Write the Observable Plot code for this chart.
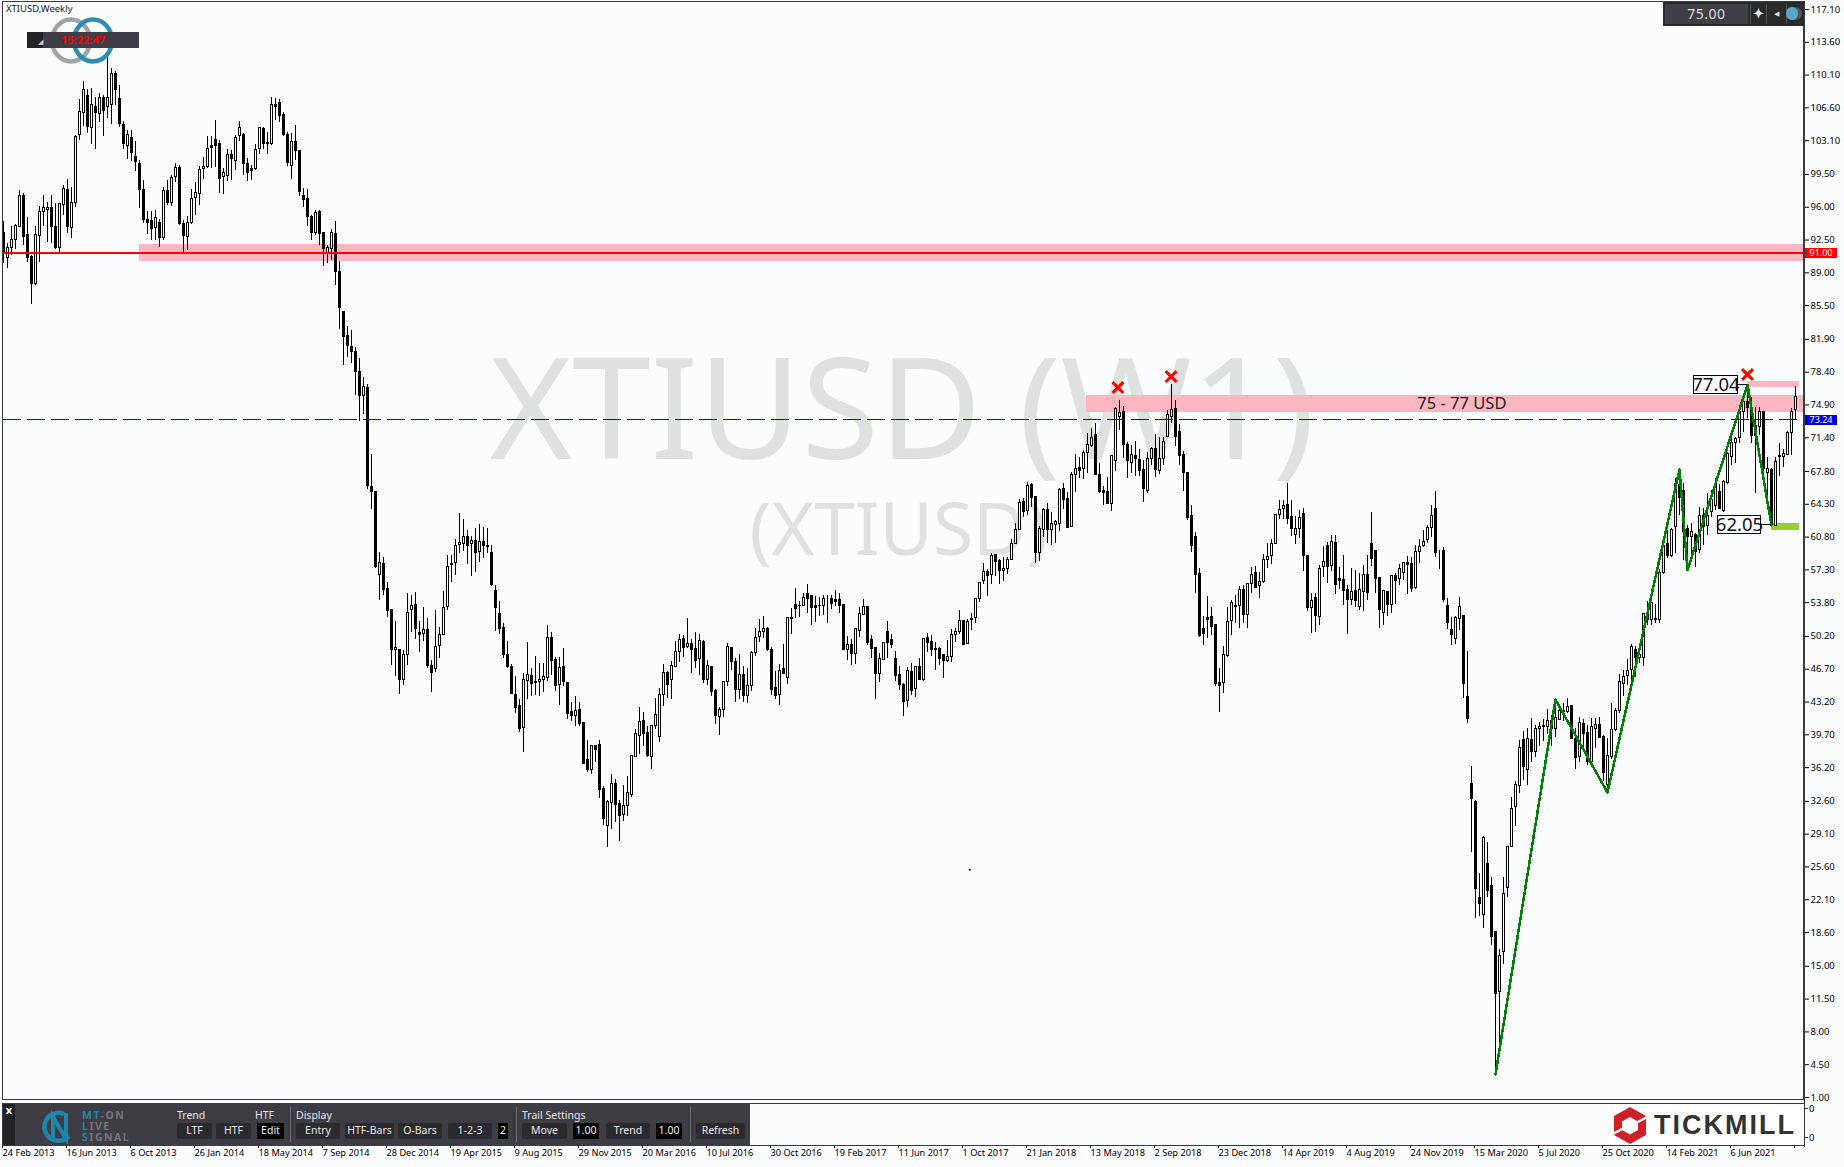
<!DOCTYPE html>
<html><head><meta charset="utf-8">
<script src="https://cdn.jsdelivr.net/npm/d3@7"></script>
<script src="https://cdn.jsdelivr.net/npm/@observablehq/plot@0.6"></script>
<style>
html,body{margin:0;padding:0;background:#fafcfe;overflow:hidden}
#wrap{position:relative;width:1844px;height:1167px;font-family:"Noto Sans",sans-serif}
#wrap svg{display:block}
.o{position:absolute;box-sizing:border-box;white-space:nowrap}
.b{background:#2b2a2e;color:#e6e6e6;border-radius:2px;text-align:center;font-size:10.5px;line-height:15px;height:16px;top:1123px}
.k{background:#000;color:#eee;text-align:center;font-size:10.5px;line-height:15px;height:16px;top:1123px}
.t{color:#e4e4e4;font-size:10.5px;top:1108px;line-height:14px}
.s{width:1px;background:#6a6a70;top:1107px;height:35px}
</style></head><body><div id="wrap"></div>
<script>
const opens=[93.3,90.6,91.7,92.5,93.9,97.2,93.0,90.7,87.8,92.9,
95.5,95.7,95.9,93.9,91.6,96.2,97.8,93.8,96.4,103.7,
106.1,107.9,104.5,106.7,106.0,107.7,106.7,106.9,110.2,107.6,
104.8,102.5,103.4,101.4,100.6,97.8,94.6,94.5,93.8,94.3,
92.7,97.7,96.5,99.2,100.2,94.2,92.8,94.3,97.0,97.4,
100.1,100.3,102.5,103.2,102.8,99.2,99.3,101.6,100.9,103.6,
103.7,100.6,100.1,100.1,102.2,104.4,102.9,102.7,106.9,107.1,
105.8,103.7,100.4,103.0,102.0,97.2,96.9,95.0,93.3,95.5,
93.2,91.0,91.5,93.1,89.1,84.8,82.3,81.1,80.6,78.4,
75.9,76.7,66.1,65.6,56.8,57.9,55.3,53.0,48.8,48.8,
45.5,48.2,53.0,53.6,50.6,50.5,50.9,47.0,46.7,49.2,
50.4,53.3,57.9,58.0,60.0,60.1,60.8,60.1,60.4,59.2,
60.3,59.8,59.1,55.0,52.6,51.1,48.2,46.9,43.9,42.8,
40.4,45.4,46.0,45.3,45.3,45.6,45.8,50.0,47.7,45.0,
46.9,45.2,42.1,41.7,42.4,41.0,37.0,36.0,38.5,38.6,
33.9,30.0,32.4,34.5,32.3,31.1,32.1,33.3,37.3,39.6,
41.2,39.9,37.3,40.6,39.5,44.0,46.3,45.6,46.9,48.5,
49.9,49.1,49.4,48.9,47.8,49.6,45.6,46.9,44.4,41.6,
42.4,45.3,49.0,47.5,44.5,46.1,43.8,44.9,48.4,50.1,
50.7,51.0,48.7,44.7,44.0,46.7,45.8,52.1,53.6,53.5,
53.4,54.7,54.5,53.4,53.5,53.4,54.2,54.2,54.1,54.1,
53.6,48.8,49.3,48.3,50.8,52.5,53.3,49.8,49.0,46.2,
47.7,50.7,49.8,47.8,46.1,45.0,43.3,46.4,44.6,46.9,
45.5,50.0,49.6,48.9,48.9,48.2,47.6,48.0,50.4,50.7,
51.8,49.4,52.0,52.2,54.2,56.1,57.1,56.8,58.9,58.2,
57.2,57.4,58.4,60.1,61.6,64.5,63.6,66.4,65.1,59.1,
61.6,63.7,61.6,62.1,62.2,65.9,64.9,61.9,67.4,68.2,
68.1,69.8,70.5,71.7,67.4,65.7,65.6,64.3,68.9,73.6,
74.1,70.6,68.7,69.5,69.0,68.0,65.7,69.1,70.2,67.9,
69.1,71.5,73.6,74.5,72.0,69.6,67.6,63.0,60.8,56.9,
51.0,52.2,52.3,51.4,45.2,45.2,48.1,51.8,53.5,53.4,
55.2,52.5,55.8,57.0,55.6,56.0,58.4,58.8,60.1,63.2,
63.8,64.2,62.9,61.0,61.7,63.3,58.8,53.2,54.3,52.3,
57.6,59.9,57.7,60.2,56.3,56.2,55.2,54.1,55.1,53.3,
54.9,56.8,60.1,59.3,56.4,52.7,54.9,53.6,56.6,56.3,
57.0,58.0,57.9,55.4,59.2,59.9,60.5,61.8,63.8,58.8,
59.3,53.5,50.9,49.9,52.1,52.4,43.7,34.5,32.5,22.3,
20.5,25.9,23.6,18.7,12.3,16.5,23.4,27.7,32.0,34.2,
39.1,35.9,39.2,37.9,40.3,40.6,40.5,41.2,40.3,41.3,
42.2,42.1,42.8,39.3,37.3,40.9,39.9,36.8,40.3,40.8,
39.5,34.4,37.3,40.2,42.2,45.1,46.0,46.6,48.8,47.9,
47.9,52.6,52.0,52.1,52.0,57.0,60.1,58.8,61.9,66.4,
65.7,61.7,60.8,61.0,59.4,63.1,62.0,63.5,64.1,65.6,
63.6,66.6,69.4,70.8,71.4,74.1,75.2,74.6,72.7,72.5,
74.1,67.6,68.0,62.0,69.5,69.3,69.6,71.9,74.4];
const highs=[94.5,92.1,93.9,94.2,97.8,97.5,94.9,90.9,93.9,96.1,
97.2,96.5,97.2,96.4,96.4,98.3,99.0,98.1,103.7,107.5,
109.4,108.6,108.7,107.7,108.1,107.9,112.0,110.8,110.5,109.0,
105.1,104.2,104.2,103.0,101.0,98.9,95.5,95.5,95.6,94.7,
98.1,98.9,99.4,100.7,100.4,94.6,95.0,97.9,98.6,100.3,
101.3,103.5,103.5,105.3,103.1,100.1,102.2,102.1,103.7,105.1,
103.9,101.2,100.5,102.7,104.5,104.5,104.0,107.7,107.6,107.5,
106.1,104.0,103.9,104.7,102.1,98.0,97.9,95.1,95.7,95.6,
93.2,91.9,93.6,94.5,90.2,84.8,83.3,82.8,81.0,79.9,
77.8,77.1,69.6,65.7,59.2,58.6,56.0,53.0,51.8,48.8,
48.7,54.8,54.6,54.9,51.8,53.3,52.1,47.6,53.0,51.2,
55.0,58.8,58.8,60.5,63.3,62.7,61.5,60.9,61.7,62.1,
61.8,61.7,59.9,55.6,53.9,51.6,49.7,47.2,45.9,43.5,
46.2,49.6,46.8,48.1,47.3,47.3,51.4,50.6,48.0,48.0,
48.9,45.2,43.2,43.8,43.1,41.0,39.1,38.6,38.5,39.1,
34.2,32.7,35.5,34.9,32.7,34.3,35.3,37.4,40.3,42.6,
42.1,40.6,40.7,43.6,44.6,47.2,46.5,47.5,49.7,50.4,
50.3,52.1,49.9,50.6,50.4,49.8,47.6,46.9,44.5,42.6,
45.4,49.4,49.0,47.8,48.3,47.0,46.8,48.6,51.1,52.0,
52.3,51.2,49.0,46.5,47.2,49.3,52.2,53.2,55.3,53.9,
54.8,55.7,54.5,54.5,54.4,54.6,54.6,54.6,55.1,54.8,
53.6,50.2,49.9,51.0,53.3,54.1,53.4,50.3,49.0,48.4,
49.5,51.8,50.4,48.6,47.0,45.2,46.9,47.3,47.0,47.8,
49.9,50.5,50.3,49.5,49.0,48.3,49.8,50.9,51.0,53.0,
51.9,52.0,52.6,54.2,56.0,58.0,57.3,59.0,58.9,58.4,
58.6,58.6,60.5,62.3,64.8,64.9,66.6,66.5,65.1,61.9,
63.9,64.4,63.4,62.6,66.0,66.5,65.6,67.7,69.6,69.3,
70.0,71.9,72.4,72.9,68.7,66.2,67.2,69.5,74.6,75.4,
74.7,70.9,70.6,71.0,70.2,69.0,69.8,70.4,71.8,71.4,
71.4,74.3,77.1,75.4,72.8,69.9,67.6,64.2,61.3,57.4,
52.3,54.5,53.3,51.4,46.8,49.1,53.3,54.0,54.6,55.5,
55.6,55.8,57.6,57.7,57.0,58.9,60.1,60.5,63.2,64.7,
64.7,66.5,64.7,63.0,63.6,63.9,58.8,54.8,54.8,57.8,
59.8,60.2,61.0,61.0,57.6,58.8,55.6,57.4,57.2,56.9,
57.8,58.8,63.4,59.3,56.5,55.1,54.9,56.7,56.9,57.9,
58.0,58.7,58.6,59.9,60.5,61.5,62.0,64.2,65.7,59.4,
59.7,54.3,52.2,52.3,54.4,52.4,48.6,36.3,32.7,24.9,
28.9,28.2,24.5,18.7,16.8,24.5,27.8,33.0,34.7,39.1,
40.1,40.4,41.4,40.7,41.0,41.3,42.4,41.8,43.2,42.8,
43.0,43.6,42.8,40.4,41.5,41.3,40.7,41.4,41.4,41.6,
39.6,39.3,43.0,42.5,46.1,46.6,47.7,49.3,49.1,48.7,
52.7,53.9,53.8,53.6,57.3,60.1,61.5,61.7,67.1,68.0,
66.5,62.0,62.2,61.2,64.0,63.8,65.4,65.8,67.1,66.4,
66.8,69.8,71.3,71.4,74.3,75.6,77.1,75.7,74.6,74.6,
74.2,69.3,68.1,69.3,70.8,70.2,72.1,74.5,76.9];
const lows=[90.0,89.5,90.9,91.5,93.9,91.9,90.1,85.6,87.6,90.1,
93.9,92.2,92.1,91.5,91.2,95.1,93.2,92.7,96.0,103.1,
104.6,103.9,102.7,102.2,105.0,103.5,105.5,104.8,106.9,104.5,
102.2,101.1,100.9,99.8,95.9,94.3,93.1,92.5,92.4,91.7,
92.5,96.2,96.1,98.6,94.1,91.1,91.4,94.2,95.1,96.2,
99.0,100.1,100.1,100.2,97.5,97.4,98.7,98.9,99.9,103.0,
99.4,98.7,98.9,99.9,101.6,102.2,101.6,102.6,105.3,105.0,
103.5,100.3,99.0,101.0,97.1,96.0,93.9,92.5,93.0,91.9,
89.7,90.0,90.3,87.6,83.0,79.1,80.0,79.3,75.9,73.1,
73.9,65.9,63.7,57.5,54.0,54.6,52.2,47.1,45.9,44.0,
45.0,47.1,50.6,49.9,48.5,49.7,46.8,44.2,46.3,47.8,
50.4,53.0,56.0,56.7,59.0,59.3,57.9,56.6,57.0,58.1,
58.5,59.1,55.5,50.7,50.4,47.8,46.8,44.0,42.0,39.9,
37.8,43.5,43.8,43.9,43.8,44.2,45.4,46.0,44.3,42.8,
44.9,41.3,41.1,40.6,40.6,36.5,35.7,35.5,36.7,32.9,
30.0,27.7,29.6,30.3,28.3,30.4,31.0,33.0,37.3,37.6,
38.5,37.3,36.0,40.3,38.9,42.7,43.6,43.5,46.9,47.4,
47.9,48.9,46.2,46.8,46.0,45.2,45.0,43.8,40.8,39.6,
41.6,44.9,46.6,43.2,43.5,43.2,43.0,44.3,48.1,49.6,
50.0,48.6,43.9,43.5,42.8,46.2,45.1,50.4,52.1,52.2,
53.4,52.6,51.4,51.7,52.3,52.4,51.6,53.1,53.4,52.6,
48.7,47.6,47.1,47.2,50.1,52.5,49.2,47.8,43.5,45.3,
47.6,47.8,48.9,45.4,44.4,41.7,42.6,43.9,43.7,45.5,
45.4,48.5,48.1,46.6,47.1,45.7,47.4,47.4,49.5,50.4,
49.2,49.3,50.8,51.6,53.8,55.7,54.5,55.7,56.6,55.7,
56.1,56.8,58.3,60.0,61.5,62.9,63.1,64.0,58.0,58.2,
60.8,60.1,59.9,60.1,61.4,63.7,61.7,61.9,65.6,67.0,
66.9,67.6,70.4,67.4,65.5,64.2,64.3,63.5,67.8,72.2,
69.2,67.1,67.6,67.3,67.3,64.5,65.4,68.4,67.2,67.5,
68.4,71.4,72.9,70.5,68.4,65.7,62.6,59.2,54.8,50.1,
49.2,50.0,50.3,44.9,42.1,44.1,47.9,50.3,51.6,51.0,
51.6,51.1,54.8,55.3,54.3,55.9,57.4,57.9,60.1,62.7,
62.7,62.1,60.9,60.0,60.6,57.1,52.9,50.5,50.6,51.4,
56.5,55.8,57.1,54.7,55.2,53.5,50.4,53.5,53.3,53.0,
52.9,54.0,57.7,54.8,51.0,51.4,52.3,52.7,53.6,55.6,
56.2,54.7,54.9,55.2,58.0,59.7,60.1,60.8,58.6,57.3,
53.8,50.9,49.2,49.3,50.8,43.6,40.9,27.1,20.1,20.3,
19.0,22.3,17.2,3.5,6.8,15.2,22.3,27.7,29.9,33.4,
34.8,34.3,36.8,37.3,38.5,39.0,39.7,38.5,39.4,41.2,
41.1,42.0,39.2,36.0,36.7,38.1,36.4,36.7,38.2,39.3,
34.7,34.0,37.1,40.1,42.0,43.8,45.0,45.5,45.8,47.3,
47.0,51.4,51.4,51.6,51.6,56.8,58.5,58.6,59.1,63.1,
58.3,57.4,58.6,57.6,59.1,59.9,61.0,62.9,63.6,63.8,
63.4,66.4,68.4,68.7,70.8,72.0,73.5,70.8,65.5,71.6,
67.7,63.6,61.9,61.9,67.3,68.2,69.5,69.5,73.3];
const closes=[91.0,91.7,92.5,94.0,97.2,92.8,90.6,87.8,93.0,95.5,
95.9,95.9,93.9,91.6,96.3,97.9,93.9,96.5,103.5,106.2,
108.5,104.6,106.9,106.1,107.7,106.3,107.7,110.2,108.5,104.9,
102.8,103.7,101.8,100.8,97.8,94.6,94.3,93.7,94.9,92.7,
97.7,96.4,99.1,100.2,94.2,92.9,94.3,96.9,97.5,100.0,
100.3,102.2,102.3,102.5,99.0,99.6,101.6,101.2,103.4,104.5,
100.6,99.7,99.9,102.1,104.5,102.8,102.7,106.9,106.7,105.7,
103.7,100.7,103.0,102.0,97.6,96.8,95.0,93.2,95.4,93.1,
91.5,91.6,93.2,89.1,85.2,82.2,81.2,80.5,78.4,75.9,
76.8,66.3,65.6,57.6,58.0,55.2,52.9,48.8,49.0,45.5,
48.2,52.7,53.4,51.0,50.3,50.9,47.0,46.3,49.1,50.3,
53.2,57.6,57.8,59.9,60.2,60.8,59.9,60.4,59.1,60.3,
59.8,59.7,55.7,53.2,51.0,48.2,46.9,44.1,42.6,40.3,
45.6,46.1,45.1,45.2,45.6,45.9,50.0,47.6,44.9,46.8,
45.3,41.9,41.7,42.2,40.9,36.6,35.9,38.5,38.1,33.8,
30.7,32.5,34.5,32.2,31.0,32.1,33.5,37.4,39.8,41.1,
39.8,37.4,40.6,41.8,44.0,46.3,45.0,47.0,48.5,49.8,
49.0,49.4,48.8,47.6,49.7,45.6,47.0,44.3,41.7,42.4,
45.3,49.1,47.5,44.5,46.1,43.8,44.9,48.4,50.0,50.7,
51.0,48.8,44.5,43.8,46.5,46.2,52.2,52.2,53.1,53.4,
54.3,54.2,53.2,53.2,53.4,54.2,54.2,53.7,53.9,53.4,
48.7,49.3,48.3,51.0,52.6,53.3,49.5,48.9,46.2,47.8,
49.5,49.5,49.3,46.0,45.0,43.2,46.5,44.4,46.9,45.6,
49.9,49.5,48.8,48.8,47.8,47.6,48.0,50.4,50.7,51.8,
49.3,51.7,52.1,54.2,55.9,57.1,56.7,58.8,58.1,57.2,
57.4,58.4,60.1,61.6,64.4,63.5,66.3,65.0,59.1,61.7,
63.7,61.6,62.2,62.4,65.8,64.8,61.8,67.4,68.1,67.9,
69.8,70.6,71.4,67.4,65.6,65.5,64.3,69.5,74.5,74.0,
70.6,68.9,69.6,69.1,67.9,65.9,69.1,70.2,68.0,69.1,
71.0,73.8,74.4,71.5,69.5,67.6,62.8,59.8,56.8,50.2,
50.5,52.0,51.2,45.1,44.9,48.2,51.7,53.8,53.3,55.2,
52.5,55.8,56.8,55.4,56.0,58.4,58.7,60.1,63.2,63.7,
64.1,62.7,61.7,61.7,62.8,58.8,53.2,54.0,52.4,57.4,
58.1,57.6,60.3,55.7,56.1,55.1,54.1,54.9,54.0,55.2,
56.8,54.8,58.5,56.3,53.0,55.0,53.6,56.6,56.1,57.4,
58.0,57.8,55.3,59.2,59.7,60.3,61.8,63.1,59.1,58.8,
54.1,51.6,50.3,52.2,53.3,45.1,41.4,32.9,23.3,21.6,
28.7,23.0,18.1,12.0,16.1,22.7,27.7,31.8,34.3,38.3,
36.3,39.3,37.9,40.3,40.5,40.5,41.2,40.3,41.5,42.2,
42.1,42.7,39.3,37.2,41.0,39.8,36.8,40.5,40.7,39.4,
35.6,37.4,40.2,42.2,45.3,45.9,46.5,49.1,47.9,48.2,
52.6,52.0,53.8,52.0,57.0,59.8,58.8,61.6,66.5,65.0,
61.3,60.8,61.3,59.2,63.1,61.9,63.1,64.8,66.5,63.8,
66.7,69.7,70.8,71.3,74.1,75.2,74.6,71.6,71.6,74.1,
68.1,68.1,62.0,68.8,69.3,69.7,71.9,74.2,75.7];
const dateLabels=["24 Feb 2013","16 Jun 2013","6 Oct 2013","26 Jan 2014","18 May 2014","7 Sep 2014","28 Dec 2014","19 Apr 2015","9 Aug 2015","29 Nov 2015","20 Mar 2016","10 Jul 2016","30 Oct 2016","19 Feb 2017","11 Jun 2017","1 Oct 2017","21 Jan 2018","13 May 2018","2 Sep 2018","23 Dec 2018","14 Apr 2019","4 Aug 2019","24 Nov 2019","15 Mar 2020","5 Jul 2020","25 Oct 2020","14 Feb 2021","6 Jun 2021",""];
const priceTicks=[117.1,113.6,110.1,106.6,103.1,99.5,96,92.5,89,85.5,81.9,78.4,74.9,71.4,67.8,64.3,60.8,57.3,53.8,50.2,46.7,43.2,39.7,36.2,32.6,29.1,25.6,22.1,18.6,15,11.5,8,4.5,1];
const zigzagBar=[373,388,401,419,421,436,442];
const zigzagPrice=[3.44,43.46,33.54,68.0,57.3,77.04,62.05];
const crossBar=[278.6,291.9,436];
const crossPrice=[76.76,77.93,78.15];
const supportLine=91.00, bidLine=73.24;

const bars=opens.map((o,i)=>({i,o,h:highs[i],l:lows[i],c:closes[i]}));
const zig=zigzagBar.map((b,i)=>({b,p:zigzagPrice[i]}));
const crosses=crossBar.map((b,i)=>({b,p:crossPrice[i]}));
const PINK="#ffb6c1";
const zones=[{x1:33.9,x2:450,y1:90.2,y2:92.0,f:PINK},{x1:270.8,x2:450,y1:74.1,y2:75.9,f:PINK},{x1:436,x2:448.9,y1:76.76,y2:77.4,f:PINK},{x1:441.9,x2:448.9,y1:61.5,y2:62.25,f:"#9acd32"}];
const boxes=[{x1:422.6,x2:433.6,y1:76.12,y2:78.04,t:"77.04",y:77.05,cx:428.1,lx1:433.6,lx2:436},{x1:428.6,x2:439.4,y1:61.18,y2:63.1,t:"62.05",y:62.1,cx:434,lx1:439.4,lx2:442}];
const FF='"Noto Sans",sans-serif';

const chart=Plot.plot({
  width:1844,height:1167,marginTop:0,marginLeft:0,marginRight:40,marginBottom:22,
  style:{background:"#fafcfe",fontFamily:FF,fontSize:"9.5px",color:"#000"},
  x:{domain:[0,450],range:[3,1803],axis:null},
  y:{domain:[1,117.1],range:[1097,9],axis:null},
  marks:[
    Plot.text(["XTIUSD (W1)"],{x:()=>121.5,y:()=>73.95,text:d=>d,textAnchor:"start",fontSize:141,fill:"#dfe1e0",fontFamily:FF}),
    Plot.text(["(XTIUSD)"],{x:()=>186.5,y:()=>61.4,text:d=>d,textAnchor:"start",fontSize:73,fill:"#dfe1e0",fontFamily:FF}),
    Plot.rect(zones,{x1:"x1",x2:"x2",y1:"y1",y2:"y2",fill:"f",shapeRendering:"crispEdges"}),
    Plot.ruleX(bars,{x:"i",y1:"l",y2:"h",stroke:"#000",strokeWidth:1,shapeRendering:"crispEdges"}),
    Plot.rect(bars,{x1:d=>d.i-0.25,x2:d=>d.i+0.25,y1:"o",y2:"c",fill:d=>d.c>=d.o?"#fafcfe":"#000",stroke:"#000",strokeWidth:1,shapeRendering:"crispEdges"}),
    Plot.ruleY([supportLine],{y:d=>d,x1:()=>0,x2:()=>450,dy:-1,stroke:"#ff0000",strokeWidth:2,shapeRendering:"crispEdges"}),
    Plot.ruleY([bidLine],{y:d=>d,x1:()=>0,x2:()=>448.6,dy:-1,stroke:"#0000e6",strokeWidth:1,strokeDasharray:"18,6",shapeRendering:"crispEdges"}),
    Plot.line(zig,{x:"b",y:"p",stroke:"#008000",strokeWidth:2.5,curve:"linear",shapeRendering:"crispEdges"}),
    Plot.rect(boxes,{x1:"x1",x2:"x2",y1:"y1",y2:"y2",fill:"#fafcfe",stroke:"#000",strokeWidth:1,shapeRendering:"crispEdges"}),
    Plot.ruleY(boxes,{y:"y",x1:"lx1",x2:"lx2",stroke:"#000",strokeWidth:1,shapeRendering:"crispEdges"}),
    Plot.text(boxes,{x:"cx",y:"y",text:"t",fontSize:18.5,fill:"#111",fontFamily:FF}),
    Plot.text(["75 - 77 USD"],{x:()=>364.6,y:()=>75.0,text:d=>d,fontSize:16.5,fill:"#222",fontFamily:FF}),
    Plot.dot(crosses,{x:"b",y:"p",symbol:"times",r:5,stroke:"#ff0000",strokeWidth:3}),
    Plot.dot([25.3],{x:()=>241.6,y:d=>d,r:1,fill:"#000"}),
    Plot.axisY({anchor:"right",ticks:priceTicks,tickFormat:v=>v.toFixed(2),tickSize:4,tickPadding:2,label:null,fill:"#000",fontSize:9.5}),
    Plot.axisX({anchor:"bottom",ticks:dateLabels.map((d,i)=>i*16),tickFormat:v=>dateLabels[v/16],tickSize:3,tickPadding:1,textAnchor:"start",dx:-1,label:null,fill:"#000",fontSize:9.2})
  ]
});
const wrap=document.getElementById("wrap");
wrap.appendChild(chart);
const yS=chart.scale("y");
function o(css,html,cls){const e=document.createElement("div");e.className="o "+(cls||"");e.style.cssText=css;e.innerHTML=html||"";wrap.appendChild(e);return e;}
const AX="#3a3a3a";
o(`left:2px;top:1px;width:1802px;height:1099px;border:1px solid ${AX};border-bottom:1px solid ${AX};pointer-events:none`);
o(`left:2px;top:1103px;width:1802px;height:43px;border-top:1px solid ${AX};border-left:1px solid ${AX};border-bottom:1px solid ${AX}`);
o(`left:1804px;top:1px;width:1px;height:1146px;background:${AX}`);
// chart name and timer
o("left:6px;top:2px;font-size:9.5px;line-height:14px;color:#222","XTIUSD,Weekly");
o("left:0;top:0","<svg width='130' height='70' style='position:absolute;left:0;top:0;overflow:visible'><ellipse cx='71' cy='40.5' rx='19' ry='21' fill='none' stroke='#a3a3a3' stroke-width='4.5'/><ellipse cx='93' cy='40.5' rx='19' ry='21' fill='none' stroke='#2b8db3' stroke-width='4.5'/></svg>");
o("left:27px;top:32px;width:112px;height:16px;background:#3f3e46");
o("left:27px;top:32px;width:16px;height:16px;background:#232326;color:#ccc;font-size:7px;line-height:20px;text-align:right","&#9698;");
o("left:27px;top:32px;width:112px;height:16px;text-align:center;line-height:16px;font-size:11px;font-weight:700;color:#f00","15:22:47");
// top right widget
o("left:1663px;top:2px;width:141px;height:24px;background:#2a2a2c");
o("left:1665px;top:4px;width:83px;height:20px;background:#403f46;color:#ddd;font-size:14px;line-height:19px;text-align:center;letter-spacing:.5px","75.00");
o("left:1750px;top:4px;width:1px;height:20px;background:#555");
o("left:1766px;top:4px;width:1px;height:20px;background:#555");
o("left:1786px;top:4px;width:1px;height:20px;background:#555");
o("left:1751px;top:4px;width:15px;height:20px;color:#eee;font-size:13px;line-height:19px;text-align:center;font-weight:700","&#10022;");
o("left:1768px;top:4px;width:16px;height:20px;color:#ddd;font-size:7px;line-height:20px;text-align:center","&#9664;");
o("left:1786px;top:7px;width:16px;height:13px;border-radius:7px;background:#555");
o("left:1786px;top:7px;width:12px;height:13px;border-radius:7px;background:#5aa7c7");
// price tags
const tag=(v,bg)=>o(`left:1805px;top:${yS.apply(v)-5.5}px;width:32px;height:10px;background:${bg};color:#fff;font-size:9px;line-height:10px;text-align:center`,v.toFixed(2));
tag(supportLine,"#f00");tag(bidLine,"#0000e6");
// subwindow axis
o("left:1804px;top:1108px;width:4px;height:1px;background:#333");
o("left:1804px;top:1137px;width:4px;height:1px;background:#333");
o("left:1809px;top:1102px;font-size:9.5px;line-height:14px;color:#000","0");
o("left:1809px;top:1131px;font-size:9.5px;line-height:14px;color:#000","0");
// bottom panel
o("left:3px;top:1103px;width:747px;height:43px;background:#3f3d44");
o("left:3px;top:1104px;width:12px;height:41px;background:#232226");
o("left:4px;top:1103px;width:10px;text-align:center;color:#fff;font-size:11px;font-weight:700;line-height:14px","x");
o("left:42px;top:1110px","<svg width='36' height='34'><path d='M22 4 A14 14 0 1 0 27 26' fill='none' stroke='#1f86ad' stroke-width='4.5'/><path d='M11 31 V7 L24 29 V3' fill='none' stroke='#1f86ad' stroke-width='4'/></svg>");
o("left:82px;top:1110px;font:700 10.5px/11px 'Noto Sans';color:#2585ad;letter-spacing:1.5px","MT<span style='color:#77767c'>-ON</span>");
o("left:82px;top:1121px;font:700 10.5px/11px 'Noto Sans';color:#2585ad;letter-spacing:1.5px","L<span style='color:#77767c'>IVE</span>");
o("left:82px;top:1132px;font:700 10.5px/11px 'Noto Sans';color:#2585ad;letter-spacing:1.5px","S<span style='color:#77767c'>IGNAL</span>");
const labels=[["Trend",177],["HTF",255],["Display",296],["Trail Settings",522]];
labels.forEach(([t,x])=>o(`left:${x}px`,t,"t"));
const btns=[["LTF",177,35],["HTF",216,35],["Entry",296,44],["HTF-Bars",345,49],["O-Bars",398,44],["1-2-3",448,44],["Move",522,45],["Trend",606,44],["Refresh",696,49]];
btns.forEach(([t,x,w])=>o(`left:${x}px;width:${w}px`,t,"b"));
const keys=[["Edit",257,27],["2",498,10],["1.00",573,26],["1.00",656,26]];
keys.forEach(([t,x,w])=>o(`left:${x}px;width:${w}px`,t,"k"));
[290,516,690].forEach(x=>o(`left:${x}px`,"","s"));
// broker logo
o("left:1614px;top:1105px;width:190px;height:40px;background:#fff");
o("left:1614px;top:1107px","<svg width='34' height='38'><polygon points='16,0 32,9 32,28 16,37 0,28 0,9' fill='#cd2028'/><polygon points='16,10 24,14.5 24,23 16,27.5 8,23 8,14.5' fill='#fff'/><path d='M33 10 L24 15 M-1 27 L8 22' stroke='#fff' stroke-width='2.5'/></svg>");
o("left:1654px;top:1108px;font:700 27px/34px 'Liberation Sans';color:#333;letter-spacing:2px","TICKMILL");
</script></body></html>
